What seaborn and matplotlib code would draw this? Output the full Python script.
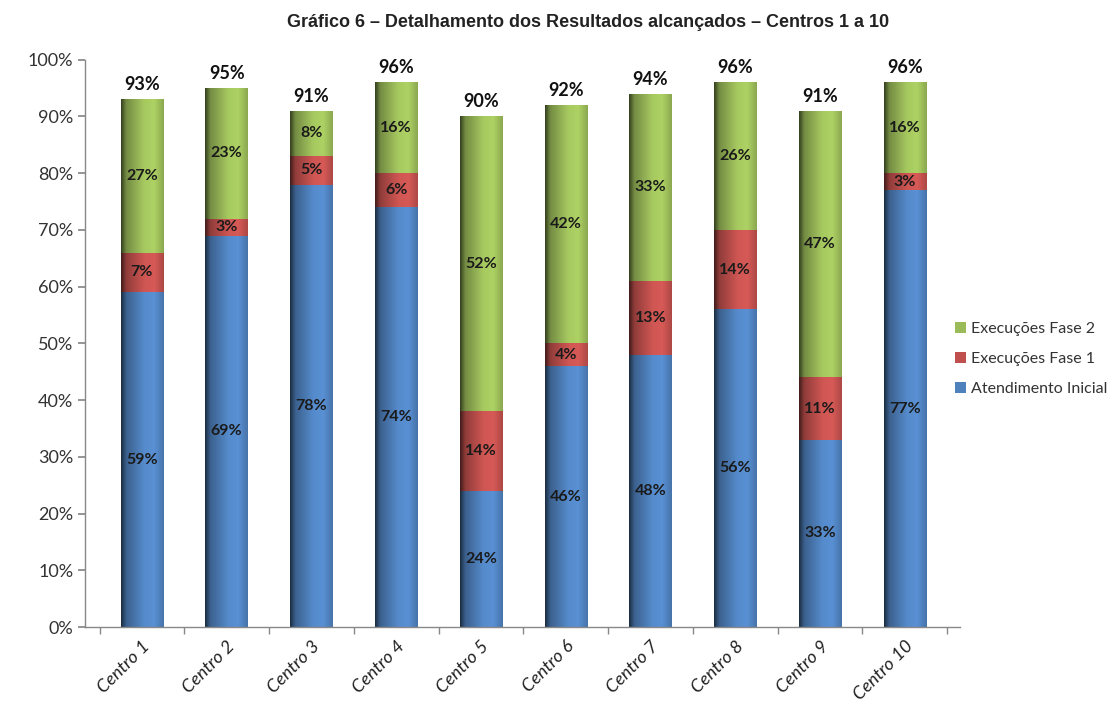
import numpy as np
import pandas as pd
import seaborn as sns
import matplotlib.pyplot as plt
from matplotlib.colors import to_rgb
from matplotlib.ticker import FixedLocator, PercentFormatter

# Data
centros = ["Centro 1", "Centro 2", "Centro 3", "Centro 4", "Centro 5",
           "Centro 6", "Centro 7", "Centro 8", "Centro 9", "Centro 10"]
atendimento = [59, 69, 78, 74, 24, 46, 48, 56, 33, 77]
fase1 = [7, 3, 5, 6, 14, 4, 13, 14, 11, 3]
fase2 = [27, 23, 8, 16, 52, 42, 33, 26, 47, 16]
totais = [93, 95, 91, 96, 90, 92, 94, 96, 91, 96]

series_names = ["Execuções Fase 2", "Execuções Fase 1", "Atendimento Inicial"]
colors = {"Execuções Fase 2": "#9BBB59",
          "Execuções Fase 1": "#C0504D",
          "Atendimento Inicial": "#4F81BD"}

df = pd.DataFrame({"centro": centros, "Atendimento Inicial": atendimento,
                   "Execuções Fase 1": fase1, "Execuções Fase 2": fase2})
df["cum_ai"] = df["Atendimento Inicial"]
df["cum_f1"] = df["cum_ai"] + df["Execuções Fase 1"]
df["cum_f2"] = df["cum_f1"] + df["Execuções Fase 2"]

sns.set_theme(style="white")
plt.rcParams["font.family"] = ["Lato", "DejaVu Sans"]

fig = plt.figure(figsize=(11.2, 7.11), dpi=100)
ax = fig.add_axes([0.076, 0.118, 0.781, 0.798])

# stacked bars drawn by overlap: tallest first
for col, name in [("cum_f2", "Execuções Fase 2"), ("cum_f1", "Execuções Fase 1"),
                  ("cum_ai", "Atendimento Inicial")]:
    sns.barplot(data=df, x="centro", y=col, color=colors[name], width=0.5,
                label=name, ax=ax, linewidth=0, saturation=1)

handles, labels = ax.get_legend_handles_labels()
if ax.get_legend() is not None:
    ax.get_legend().remove()

# cylinder-like horizontal shading on each bar
n = len(centros)
patch_colors = ([colors["Execuções Fase 2"]] * n + [colors["Execuções Fase 1"]] * n
                + [colors["Atendimento Inicial"]] * n)
stops = np.array([0.0, 0.12, 0.55, 0.78, 1.0])
factors = np.array([0.35, 0.75, 1.08, 1.12, 0.9])
xs = np.linspace(0, 1, 64)
shade = np.interp(xs, stops, factors)
for k, (patch, c) in enumerate(zip(ax.patches, patch_colors)):
    rgb = np.array(to_rgb(c))
    grad = np.clip(shade[:, None] * rgb[None, :], 0, 1)[None, :, :]
    x0, y0 = patch.get_x(), patch.get_y()
    w, h = patch.get_width(), patch.get_height()
    im = ax.imshow(grad, extent=(x0, x0 + w, y0, y0 + h), aspect="auto",
                   interpolation="bilinear", zorder=2 + k * 0.01)
    im.set_clip_path(patch)

ax.set_xlim(-0.67, 9.65)
ax.set_ylim(0, 100)

# segment labels
for i in range(n):
    segs = [(df["cum_ai"][i] / 2, atendimento[i]),
            (df["cum_ai"][i] + fase1[i] / 2, fase1[i]),
            (df["cum_f1"][i] + fase2[i] / 2, fase2[i])]
    for y, v in segs:
        ax.text(i, y, f"{v}%", ha="center", va="center", fontsize=11.5,
                fontweight="bold", color="#1a1a1a", zorder=5)
    ax.text(i, totais[i] + 2.6, f"{totais[i]}%", ha="center", va="center",
            fontsize=13, fontweight="bold", color="#111111", zorder=5)

# axes styling
ax.yaxis.set_major_locator(FixedLocator(np.arange(0, 101, 10)))
ax.yaxis.set_major_formatter(PercentFormatter(100, decimals=0))
ax.tick_params(axis="y", which="major", length=5, color="#888888",
               labelsize=13, labelcolor="#333333", left=True)
ax.set_xticks(range(n))
ax.set_xticklabels(centros, rotation=45, ha="right", rotation_mode="anchor",
                   fontsize=13, color="#222222", fontstyle="italic")
ax.tick_params(axis="x", which="major", length=0, pad=8)
ax.xaxis.set_minor_locator(FixedLocator(np.arange(-0.5, n, 1.0)))
ax.tick_params(axis="x", which="minor", length=5, color="#888888", bottom=True)
ax.set_xlabel("")
ax.set_ylabel("")
for side in ["top", "right"]:
    ax.spines[side].set_visible(False)
for side in ["left", "bottom"]:
    ax.spines[side].set_color("#888888")
    ax.spines[side].set_linewidth(1)

order = [labels.index(s) for s in series_names]
leg = fig.legend([handles[i] for i in order], [labels[i] for i in order],
                 loc="center left", bbox_to_anchor=(0.84, 0.495), frameon=False,
                 fontsize=11.5, handlelength=0.7, handleheight=0.7,
                 handletextpad=0.3, labelspacing=1.0)
for t in leg.get_texts():
    t.set_color("#333333")

fig.text(0.525, 0.968, "Gráfico 6 – Detalhamento dos Resultados alcançados – Centros 1 a 10",
         ha="center", va="center", fontsize=13, fontweight="bold",
         family=["Liberation Sans", "DejaVu Sans"], color="#222222")

fig.savefig("out.png", dpi=100)
